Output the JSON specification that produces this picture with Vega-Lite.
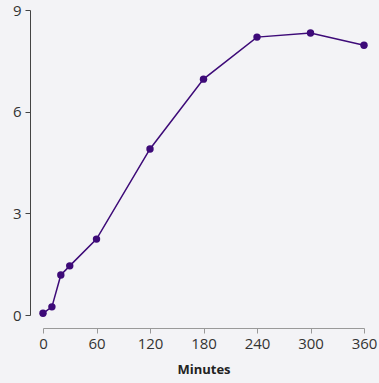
{
  "$schema": "https://vega.github.io/schema/vega-lite/v6.json",
  "width": 321,
  "height": 305,
  "autosize": {"type": "none"},
  "padding": {"left": 43, "top": 10, "right": 15, "bottom": 68},
  "background": "#f3f3f6",
  "config": {
    "view": {"stroke": null},
    "font": "Open Sans",
    "axis": {"labelFont": "Open Sans", "titleFont": "Open Sans", "grid": false}
  },
  "data": {
    "values": [
      {"minutes": 0, "value": 0.05},
      {"minutes": 10, "value": 0.24},
      {"minutes": 20, "value": 1.18},
      {"minutes": 30, "value": 1.45},
      {"minutes": 60, "value": 2.24},
      {"minutes": 120, "value": 4.9},
      {"minutes": 180, "value": 6.96},
      {"minutes": 240, "value": 8.2},
      {"minutes": 300, "value": 8.32},
      {"minutes": 360, "value": 7.96}
    ]
  },
  "encoding": {
    "x": {
      "field": "minutes", "type": "quantitative",
      "scale": {"domain": [0, 360], "nice": false},
      "axis": {
        "values": [0, 60, 120, 180, 240, 300, 360],
        "title": "Minutes", "titleFontSize": 13, "titleFontWeight": "bold", "titleColor": "#222",
        "titlePadding": 12, "labelFlush": false,
        "offset": 13, "domainColor": "#999", "tickColor": "#999", "tickSize": 5,
        "labelFontSize": 15, "labelColor": "#333", "labelPadding": 3
      }
    },
    "y": {
      "field": "value", "type": "quantitative",
      "scale": {"domain": [0, 9], "nice": false},
      "axis": {
        "values": [0, 3, 6, 9], "title": null, "labelFlush": false,
        "offset": 13, "domainColor": "#444", "tickColor": "#444", "tickSize": 5,
        "labelFontSize": 15, "labelColor": "#333", "labelPadding": 4
      }
    }
  },
  "layer": [
    {"mark": {"type": "line", "color": "#3d0a78", "strokeWidth": 1.5}},
    {"mark": {"type": "point", "filled": true, "color": "#3d0a78", "opacity": 1, "size": 55}}
  ]
}
